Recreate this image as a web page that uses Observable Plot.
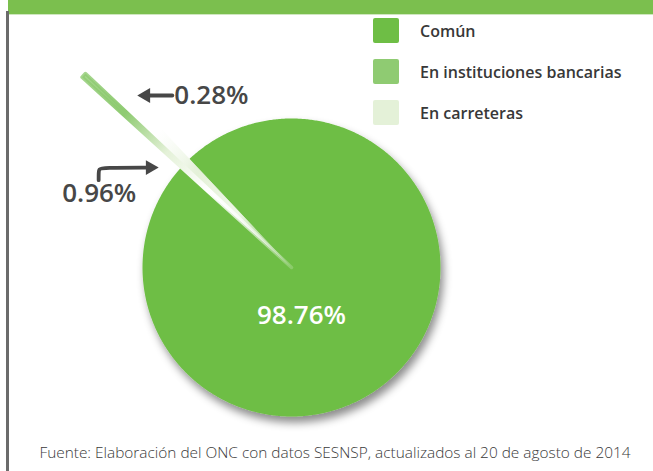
<!DOCTYPE html>
<html><head><meta charset="utf-8">
<script src="https://cdn.jsdelivr.net/npm/d3@7"></script>
<script src="https://cdn.jsdelivr.net/npm/@observablehq/plot@0.6"></script>
<style>
body{margin:0;background:#fff;}
#wrap{position:relative;width:653px;height:471px;overflow:hidden;font-family:"Open Sans",Lato,sans-serif;}
#header{position:absolute;left:8px;top:0;width:645px;height:14px;background:#7bbf4e;border-bottom:1px solid #cfe7bf;}
#rule{position:absolute;left:6px;top:11px;width:3px;height:460px;background:#6b6b6b;}
#chart{position:absolute;left:0;top:0;}
#legend{position:absolute;left:373px;top:10px;}
.item{display:flex;align-items:center;height:41px;font-weight:600;font-size:16px;color:#383838;}
.sw{width:26px;height:25px;margin-right:21px;border-radius:2px;filter:blur(0.5px);}
#caption{position:absolute;left:335px;top:442px;transform:translateX(-50%);white-space:nowrap;font-size:15.4px;font-weight:300;color:#3a3a3a;}
</style></head>
<body>
<div id="wrap">
  <div id="chart"></div>
  <div id="header"></div>
  <div id="rule"></div>
  <div id="legend"></div>
  <div id="caption">Fuente: Elaboración del ONC con datos SESNSP, actualizados al 20 de agosto de 2014</div>
</div>
<script>
// ---- data ----
const categories = ["Común", "En instituciones bancarias", "En carreteras"];
const values = [98.76, 0.28, 0.96];
const valueLabels = ["98.76%", "0.28%", "0.96%"];
const colors = ["#6ebe45", "#8fcb72", "#e4f1d8"];

// ---- layout / style (not data) ----
const W = 653, H = 471;
const cx = 291, cy = 267;          // pie centre in pixels
const layout = {
  radius: [149, 283, 190],          // drawn outer radius per slice
  wedgeDeg: 314.5                   // direction of the small slices (clockwise from top)
};

const deg = Math.PI / 180;
const smallTotal = (values[1] + values[2]) / 100 * 360;
const start = (layout.wedgeDeg + smallTotal / 2) * deg;
const slices = d3.pie().sort(null).value(d => d.value)
  .startAngle(start).endAngle(start + 2 * Math.PI)(
    categories.map((c, i) => ({cat: c, value: values[i], i}))
  );

const polar = (r, a) => ({x: r * Math.sin(a), y: r * Math.cos(a)});
const pts = [];
slices.forEach(s => {
  const r = layout.radius[s.data.i];
  const n = Math.max(2, Math.ceil((s.endAngle - s.startAngle) / (0.5 * deg)));
  pts.push({cat: s.data.cat, x: 0, y: 0});
  for (let k = 0; k <= n; k++) {
    const a = s.startAngle + (s.endAngle - s.startAngle) * k / n;
    pts.push({cat: s.data.cat, ...polar(r, a)});
  }
  pts.push({cat: s.data.cat, x: 0, y: 0});
});
const mid = s => (s.startAngle + s.endAngle) / 2;
const sBank = slices[1], sRoad = slices[2];

// annotation geometry derived from the slices
const aBank = polar(240, mid(sBank));
const aRoad = polar(149, mid(sRoad));
const bankArrow = [{x: aBank.x + 57, y: aBank.y + 9}, {x: aBank.x + 31, y: aBank.y + 9}];
const bankHead = [{x: aBank.x + 30.5, y: aBank.y + 9}];
const roadArrow = [
  {x: aRoad.x - 87.5, y: aRoad.y - 18},
  {x: aRoad.x - 87.5, y: aRoad.y - 10},
  {x: aRoad.x - 87, y: aRoad.y - 7},
  {x: aRoad.x - 84, y: aRoad.y - 5.4},
  {x: aRoad.x - 36, y: aRoad.y - 5.4}
];
const roadHead = [{x: aRoad.x - 36, y: aRoad.y - 5.4}];
const centreLabel = [{x: 10, y: -48, text: valueLabels[0]}];
const sideLabels = [
  {x: aBank.x + 59, y: aBank.y + 9, text: valueLabels[1]},
  {x: aRoad.x - 124, y: aRoad.y - 31.5, text: valueLabels[2]}
];

const byCat = c => pts.filter(p => p.cat === c);

const plot = Plot.plot({
  width: W, height: H, margin: 0,
  x: {domain: [-cx, W - cx], axis: null},
  y: {domain: [-(H - cy), cy], axis: null},
  style: {background: "transparent", fontFamily: "'Open Sans', Lato, sans-serif", overflow: "visible"},
  marks: [
    Plot.line(byCat(categories[0]), {x: "x", y: "y", fill: colors[0], stroke: "none", curve: "linear"}),
    Plot.line(byCat(categories[2]), {x: "x", y: "y", fill: "url(#roadGrad)", stroke: "url(#roadGrad)", strokeWidth: 0.6}),
    Plot.line(byCat(categories[1]), {x: "x", y: "y", fill: "url(#bankGrad)", stroke: "url(#bankGrad)", strokeWidth: 3.5}),
    Plot.line(bankArrow, {x: "x", y: "y", stroke: "#474747", strokeWidth: 3.8}),
    Plot.dot(bankHead, {x: "x", y: "y", symbol: "triangle", r: 5.5, fill: "#474747", stroke: "none", rotate: -90}),
    Plot.line(roadArrow, {x: "x", y: "y", stroke: "#474747", strokeWidth: 3.8, curve: "basis"}),
    Plot.dot(roadHead, {x: "x", y: "y", symbol: "triangle", r: 5.5, fill: "#474747", stroke: "none", rotate: 90}),
    Plot.text(centreLabel, {x: "x", y: "y", text: "text", fill: "white", textAnchor: "middle",
      fontSize: 26, fontWeight: 600}),
    Plot.text(sideLabels, {x: "x", y: "y", text: "text", fill: "#474747", textAnchor: "start",
      fontSize: 26, fontWeight: 600})
  ]
});

// soft drop shadow under the main disc (applied to the disc path itself)
const piePath = plot.querySelector('g[aria-label="line"] path');
if (piePath) piePath.setAttribute("filter", "url(#pieShadow)");

// gradients along the thin slices + shadow filter
const sx = plot.scale("x"), sy = plot.scale("y");
const ns = "http://www.w3.org/2000/svg";
const defs = document.createElementNS(ns, "defs");
defs.innerHTML = `<filter id="pieShadow" x="-20%" y="-20%" width="140%" height="140%" filterUnits="objectBoundingBox">
  <feGaussianBlur in="SourceAlpha" stdDeviation="4" result="blur"/>
  <feOffset in="blur" dx="3" dy="6" result="off"/>
  <feFlood flood-color="#000" flood-opacity="0.45" result="col"/>
  <feComposite in="col" in2="off" operator="in" result="shadow"/>
  <feMerge><feMergeNode in="shadow"/><feMergeNode in="SourceGraphic"/></feMerge>
</filter>`;
function grad(id, from, to, stops) {
  const g = document.createElementNS(ns, "linearGradient");
  g.setAttribute("id", id);
  g.setAttribute("gradientUnits", "userSpaceOnUse");
  g.setAttribute("x1", sx.apply(from.x)); g.setAttribute("y1", sy.apply(from.y));
  g.setAttribute("x2", sx.apply(to.x)); g.setAttribute("y2", sy.apply(to.y));
  stops.forEach(([o, c, op]) => {
    const s = document.createElementNS(ns, "stop");
    s.setAttribute("offset", o); s.setAttribute("stop-color", c);
    s.setAttribute("stop-opacity", op);
    g.appendChild(s);
  });
  defs.appendChild(g);
}
const tipB = polar(layout.radius[1], mid(sBank));
grad("bankGrad", tipB, {x: 0, y: 0}, [[0, colors[1], 0.8], [0.2, colors[1], 1], [0.4, colors[2], 1], [0.6, "#ffffff", 1], [1, "#ffffff", 0.2]]);
const tipR = polar(layout.radius[2], mid(sRoad));
grad("roadGrad", tipR, {x: 0, y: 0}, [[0, "#ffffff", 0.5], [0.3, colors[2], 1], [0.6, "#eef7e7", 1], [1, colors[0], 1]]);
plot.insertBefore(defs, plot.firstChild);

document.getElementById("chart").appendChild(plot);

// legend
const legend = document.getElementById("legend");
categories.forEach((c, i) => {
  const row = document.createElement("div");
  row.className = "item";
  row.innerHTML = `<div class="sw" style="background:${colors[i]}"></div><span>${c}</span>`;
  legend.appendChild(row);
});
</script>
</body></html>
